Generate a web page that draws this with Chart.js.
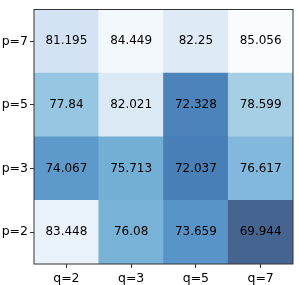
<!DOCTYPE html>
<html>
<head>
<meta charset="utf-8">
<script src="https://cdn.jsdelivr.net/npm/chart.js@4"></script>
<style>
  html, body { margin: 0; padding: 0; background: #fff; }
  #wrap { width: 299px; height: 285px; }
</style>
</head>
<body>
<div id="wrap"><canvas id="heatChart" width="299" height="285"></canvas></div>
<script>
// Etiquetas de columnas (q) y filas (p, de abajo hacia arriba)
const qLabels = ['q=2', 'q=3', 'q=5', 'q=7'];
const pLabels = ['p=2', 'p=3', 'p=5', 'p=7'];

// Valores de cada fila
const rowP2 = [83.448, 76.08, 73.659, 69.944];
const rowP3 = [74.067, 75.713, 72.037, 76.617];
const rowP5 = [77.84, 82.021, 72.328, 78.599];
const rowP7 = [81.195, 84.449, 82.25, 85.056];

const rows = [rowP2, rowP3, rowP5, rowP7];

// Mapa de colores "Blues" invertido (valor bajo = azul oscuro)
const bluesStops = ['#f7fbff', '#deebf7', '#c6dbef', '#9ecae1', '#6baed6', '#4292c6', '#2171b5', '#08519c', '#08306b'];
const allValues = rows.flat();
const vMin = Math.min(...allValues);
const vMax = Math.max(...allValues);

function hexToRgb(h) {
    return [parseInt(h.slice(1, 3), 16), parseInt(h.slice(3, 5), 16), parseInt(h.slice(5, 7), 16)];
}

// Interpola el color y lo mezcla con blanco (alpha 0.75) para que sea opaco
function colorFor(v) {
    const t = 1 - (v - vMin) / (vMax - vMin);
    const pos = t * (bluesStops.length - 1);
    const i = Math.min(Math.floor(pos), bluesStops.length - 2);
    const f = pos - i;
    const a = hexToRgb(bluesStops[i]);
    const b = hexToRgb(bluesStops[i + 1]);
    const c = a.map((x, k) => Math.round(0.75 * (x + (b[k] - x) * f) + 0.25 * 255));
    return `rgb(${c[0]},${c[1]},${c[2]})`;
}

// Cada fila es un dataset de barras flotantes [fila, fila + 1]
const datasets = rows.map((vals, r) => ({
    label: pLabels[r],
    data: vals.map(() => [r, r + 1]),
    values: vals,
    backgroundColor: vals.map(colorFor),
    borderWidth: 0,
    barPercentage: 1,
    categoryPercentage: 1,
    grouped: false
}));

// Escribe el valor en el centro de cada celda y dibuja el marco
const cellText = {
    id: 'cellText',
    afterDatasetsDraw(chart) {
        const ctx = chart.ctx;
        ctx.save();
        ctx.font = '12px "DejaVu Sans"';
        ctx.fillStyle = '#000';
        ctx.textAlign = 'center';
        ctx.textBaseline = 'middle';
        chart.data.datasets.forEach((ds, di) => {
            chart.getDatasetMeta(di).data.forEach((bar, i) => {
                ctx.fillText(String(ds.values[i]), bar.x, (bar.y + bar.base) / 2);
            });
        });
        const a = chart.chartArea;
        ctx.strokeStyle = '#333';
        ctx.lineWidth = 1;
        ctx.strokeRect(a.left, a.top, a.right - a.left, a.bottom - a.top);
        ctx.restore();
    }
};

const ctx = document.getElementById('heatChart').getContext('2d');
new Chart(ctx, {
    type: 'bar',
    data: { labels: qLabels, datasets },
    options: {
        responsive: false,
        animation: false,
        layout: { padding: { left: 0, right: 6, top: 6, bottom: 0 } },
        plugins: { legend: { display: false }, tooltip: { enabled: false } },
        scales: {
            x: {
                offset: true,
                grid: { display: true, offset: false, drawOnChartArea: false, drawTicks: true, tickLength: 4, color: '#333' },
                border: { display: false },
                ticks: { color: '#000', font: { family: 'DejaVu Sans', size: 12.5 }, padding: 3, maxRotation: 0 },
                afterFit(scale) { scale.height = 21; }
            },
            y: {
                min: 0,
                max: 4,
                grid: { display: true, drawOnChartArea: false, drawTicks: true, tickLength: 4, color: '#333' },
                border: { display: false },
                afterBuildTicks(scale) {
                    scale.ticks = pLabels.map((_, i) => ({ value: i + 0.5 }));
                },
                ticks: {
                    color: '#000',
                    font: { family: 'DejaVu Sans', size: 12.5 },
                    padding: 2,
                    callback: (v) => pLabels[Math.floor(v)]
                },
                afterFit(scale) { scale.width = 34; }
            }
        }
    },
    plugins: [cellText]
});
</script>
</body>
</html>
